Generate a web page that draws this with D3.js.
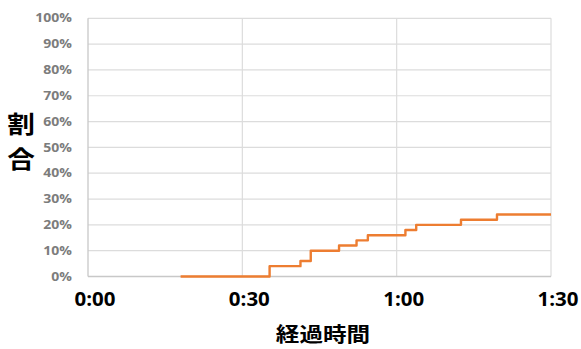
<!DOCTYPE html>
<html>
<head>
<meta charset="utf-8">
<script src="https://cdn.jsdelivr.net/npm/d3@7"></script>
<style>
  html, body { margin: 0; padding: 0; background: #fff; }
  svg { display: block; }
</style>
</head>
<body>
<svg id="chart" width="581" height="349"></svg>
<script>
// Elapsed time (minutes) at which the cumulative share changes, and the share from that time on
const stepMinutes = [18, 35.3, 41.3, 43.3, 48.8, 52.2, 54.4, 61.7, 63.8, 72.5, 79.5, 90];
const stepShares  = [0, 0.04, 0.06, 0.10, 0.12, 0.14, 0.16, 0.18, 0.20, 0.22, 0.24, 0.24];

const xTickMinutes = [0, 30, 60, 90];
const yTickShares  = [0, 0.1, 0.2, 0.3, 0.4, 0.5, 0.6, 0.7, 0.8, 0.9, 1.0];

const xTitle = "経過時間";
const yTitleChars = ["割", "合"];

const svg = d3.select("#chart");
const plot = { left: 88, right: 551, top: 18.3, bottom: 276.5 };

const x = d3.scaleLinear().domain([0, 90]).range([plot.left, plot.right]);
const y = d3.scaleLinear().domain([0, 1]).range([plot.bottom, plot.top]);

const fmtTime = m => `${Math.floor(m / 60)}:${String(m % 60).padStart(2, "0")}`;
const fmtPct = d3.format(".0%");

// horizontal gridlines
svg.append("g")
  .selectAll("line")
  .data(yTickShares.filter(d => d > 0))
  .join("line")
  .attr("x1", plot.left).attr("x2", plot.right)
  .attr("y1", d => y(d)).attr("y2", d => y(d))
  .attr("stroke", "#dcdcdc").attr("stroke-width", 1.2);

// vertical gridlines
svg.append("g")
  .selectAll("line")
  .data(xTickMinutes.filter(d => d > 0))
  .join("line")
  .attr("x1", d => x(d)).attr("x2", d => x(d))
  .attr("y1", plot.top).attr("y2", plot.bottom)
  .attr("stroke", "#dcdcdc").attr("stroke-width", 1.2);

// axis lines
svg.append("line")
  .attr("x1", plot.left).attr("x2", plot.left)
  .attr("y1", plot.top).attr("y2", plot.bottom)
  .attr("stroke", "#c8c8c8").attr("stroke-width", 1.3);
svg.append("line")
  .attr("x1", plot.left).attr("x2", plot.right)
  .attr("y1", plot.bottom).attr("y2", plot.bottom)
  .attr("stroke", "#c8c8c8").attr("stroke-width", 1.3);

// y tick labels
svg.append("g")
  .selectAll("text")
  .data(yTickShares)
  .join("text")
  .attr("transform", d => `translate(72,${y(d)}) scale(1.22,1)`)
  .attr("text-anchor", "end")
  .attr("dy", "0.36em")
  .attr("font-family", "'Open Sans', sans-serif")
  .attr("font-weight", 700)
  .attr("font-size", 11.5)
  .attr("fill", "#7c7c7c")
  .text(d => fmtPct(d));

// x tick labels
svg.append("g")
  .selectAll("text")
  .data(xTickMinutes)
  .join("text")
  .attr("transform", d => `translate(${x(d) + 7},306) scale(1.05,1)`)
  .attr("text-anchor", "middle")
  .attr("font-family", "'Open Sans', sans-serif")
  .attr("font-weight", 700)
  .attr("font-size", 19.5)
  .attr("fill", "#000")
  .text(d => fmtTime(d));

// axis titles
svg.append("text")
  .attr("transform", "translate(323,342) scale(1.18,1)")
  .attr("text-anchor", "middle")
  .attr("font-family", "'Noto Sans CJK JP', sans-serif")
  .attr("font-weight", 700)
  .attr("font-size", 20)
  .attr("fill", "#000")
  .text(xTitle);

svg.append("g")
  .selectAll("text")
  .data(yTitleChars)
  .join("text")
  .attr("transform", (d, i) => `translate(21,${122 + i * 35}) scale(1.15,1)`)
  .attr("text-anchor", "middle")
  .attr("dominant-baseline", "central")
  .attr("font-family", "'Noto Sans CJK JP', sans-serif")
  .attr("font-weight", 700)
  .attr("font-size", 24)
  .attr("fill", "#000")
  .text(d => d);

// cumulative share line
const points = stepMinutes.map((m, i) => [m, stepShares[i]]);
const line = d3.line()
  .x(d => x(d[0]))
  .y(d => y(d[1]))
  .curve(d3.curveStepAfter);

svg.append("path")
  .datum(points)
  .attr("d", line)
  .attr("fill", "none")
  .attr("stroke", "#ED7D31")
  .attr("stroke-width", 2.4)
  .attr("stroke-linejoin", "round");
</script>
</body>
</html>
